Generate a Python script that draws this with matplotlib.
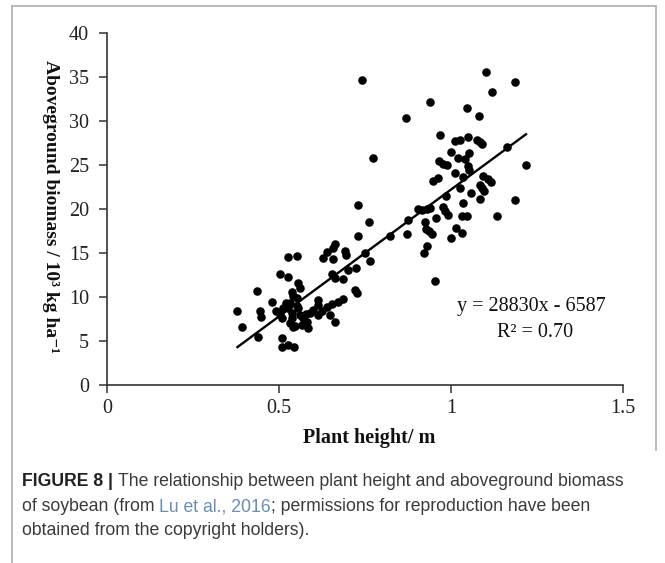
import matplotlib

matplotlib.use("Agg")
import matplotlib.pyplot as plt
from matplotlib.lines import Line2D

# Plant height (m) and aboveground biomass (10^3 kg/ha) per sample plot
height = [
    0.379, 0.392, 0.435, 0.440, 0.445, 0.447, 0.481, 0.492,
    0.503, 0.527, 0.527, 0.551, 0.510, 0.508, 0.527, 0.545,
    0.503, 0.513, 0.520, 0.510, 0.532, 0.547, 0.527, 0.532,
    0.539, 0.537, 0.541, 0.551, 0.556, 0.561, 0.556, 0.561,
    0.551, 0.537, 0.541, 0.571, 0.568, 0.580, 0.585, 0.590,
    0.600, 0.614, 0.612, 0.614, 0.578, 0.639, 0.653, 0.672,
    0.687, 0.648, 0.663, 0.629, 0.656, 0.640, 0.658, 0.663,
    0.692, 0.694, 0.653, 0.663, 0.687, 0.702, 0.724, 0.720,
    0.726, 0.625,
    0.742, 0.774, 0.729, 0.762, 0.729, 0.750, 0.765, 0.823,
    0.869, 0.874, 0.871,
    0.905, 0.915, 0.929, 0.939, 0.924, 0.928, 0.936, 0.945,
    0.956, 0.929, 0.922, 0.953, 0.939, 0.968, 0.949, 0.961,
    0.966, 0.978, 0.987, 0.978, 0.983, 0.992, 0.985, 0.999,
    0.999,
    1.012, 1.026, 1.050, 1.077, 1.084, 1.089, 1.021, 1.040,
    1.048, 1.052, 1.012, 1.053, 1.034, 1.026, 1.058, 1.034,
    1.031, 1.046, 1.014, 1.031, 1.046, 1.082, 1.101, 1.094,
    1.108, 1.116, 1.084, 1.089, 1.096, 1.084,
    1.118, 1.133, 1.187, 1.187, 1.218, 1.163,
]
biomass = [
    8.4, 6.6, 10.7, 5.5, 8.5, 7.8, 9.45, 8.4,
    12.7, 12.3, 14.6, 14.65, 5.4, 4.4, 4.6, 4.4,
    8.1, 8.8, 9.3, 7.6, 7.1, 6.7, 8.8, 9.4,
    8.2, 10.6, 10.1, 9.9, 11.6, 11.05, 8.8, 8.0,
    9.0, 7.6, 6.6, 7.6, 6.9, 7.25, 6.5, 8.2,
    8.6, 8.0, 9.1, 9.7, 8.1, 8.95, 9.2, 9.5,
    9.8, 8.0, 7.25, 14.5, 14.3, 15.1, 15.6, 16.06,
    15.3, 14.8, 12.6, 12.25, 12.1, 13.1, 13.3, 10.85,
    10.5, 8.5,
    34.7, 25.8, 20.5, 18.6, 17.0, 15.0, 14.1, 17.0,
    30.4, 18.75, 17.2,
    20.0, 19.9, 20.0, 20.2, 18.6, 17.8, 17.5, 17.2,
    19.0, 15.8, 15.0, 11.8, 32.2, 28.4, 23.2, 23.6,
    25.5, 25.2, 25.05, 20.3, 19.8, 19.4, 21.5, 26.5,
    16.7,
    27.8, 27.9, 28.2, 27.9, 27.6, 27.4, 25.8, 25.7,
    24.9, 26.4, 24.1, 24.5, 23.7, 22.4, 21.9, 20.7,
    19.2, 19.2, 17.9, 17.3, 31.5, 30.6, 35.6, 23.8,
    23.4, 23.1, 22.8, 22.4, 22.05, 21.2,
    33.3, 19.2, 34.5, 21.1, 25.0, 27.1,
]

# Linear fit reported in kg/ha: y = 28830x - 6587
SLOPE = 28830
INTERCEPT = -6587
R2 = 0.70
fit_x = [min(height), max(height)]

x_ticks = [0, 0.5, 1, 1.5]
x_tick_labels = ["0", "0.5", "1", "1.5"]
y_ticks = [0, 5, 10, 15, 20, 25, 30, 35, 40]

SERIF = ["Liberation Serif", "DejaVu Serif"]
INK = "#111111"
AXIS = "#333333"
FRAME = "#b4b4b4"
CAPTION = "#3a3a3a"
LINK = "#6a8db5"

fig = plt.figure(figsize=(6.65, 5.63), dpi=100)
ax = fig.add_axes([107 / 665, 1 - 385.3 / 563, 516 / 665, 352 / 563])

ax.scatter(height, biomass, s=38, color="black", linewidths=0, zorder=3)
fit_y = [(SLOPE * v + INTERCEPT) / 1000 for v in fit_x]
ax.plot(fit_x, fit_y, color="black", lw=1.7, zorder=2)

ax.set_xlim(0, 1.5)
ax.set_ylim(0, 40)
ax.set_xticks(x_ticks)
ax.set_xticklabels(x_tick_labels)
ax.set_yticks(y_ticks)
for side in ("top", "right"):
    ax.spines[side].set_visible(False)
for side in ("left", "bottom"):
    ax.spines[side].set_color(AXIS)
    ax.spines[side].set_linewidth(1.2)
ax.tick_params(axis="both", direction="out", length=6, width=1.1, color=AXIS,
               labelsize=14.5, labelcolor="#222222")
ax.tick_params(axis="y", pad=7)
ax.tick_params(axis="x", pad=4)
for lab in ax.get_xticklabels() + ax.get_yticklabels():
    lab.set_family(SERIF)

ax.text(1.235, 9.0, f"y = {SLOPE}x - {abs(INTERCEPT)}", ha="center", va="center",
        fontsize=14.5, family=SERIF, color=INK)
ax.text(1.244, 6.05, f"R² = {R2:.2f}", ha="center", va="center",
        fontsize=14.5, family=SERIF, color=INK)

fig.text(369 / 665, 1 - 438 / 563, "Plant height/ m", ha="center", va="center",
         fontsize=14.5, fontweight="bold", family=SERIF, color=INK)
fig.text(50 / 665, 1 - 207 / 563, "Aboveground biomass / 10³ kg ha⁻¹",
         ha="center", va="center", rotation=-90, fontsize=14,
         fontweight="bold", family=SERIF, color=INK)

# panel frame: open at the bottom, left rule runs into the caption
frame = dict(color=FRAME, lw=1.3, transform=fig.transFigure)
fig.add_artist(Line2D([12 / 665, 656 / 665], [1 - 6 / 563] * 2, **frame))
fig.add_artist(Line2D([12 / 665] * 2, [1 - 6 / 563, 0], **frame))
fig.add_artist(Line2D([656 / 665] * 2, [1 - 6 / 563, 1 - 450 / 563], **frame))

# caption, assembled piece by piece so the bold label and link keep their styles
CAP_FONT = ["Liberation Sans Narrow", "Liberation Sans", "DejaVu Sans"]
renderer = fig.canvas.get_renderer()


def caption_line(y_px, pieces):
    x = 22 / 665
    for text, weight, color in pieces:
        t = fig.text(x, 1 - y_px / 563, text, ha="left", va="baseline",
                     fontsize=12.7, fontweight=weight, color=color, family=CAP_FONT)
        x = t.get_window_extent(renderer).x1 / fig.bbox.width


caption_line(486, [("FIGURE 8 | ", "bold", "#222222"),
                   ("The relationship between plant height and aboveground biomass",
                    "normal", CAPTION)])
caption_line(511, [("of soybean (from ", "normal", CAPTION),
                   ("Lu et al., 2016", "normal", LINK),
                   ("; permissions for reproduction have been", "normal", CAPTION)])
caption_line(535, [("obtained from the copyright holders).", "normal", CAPTION)])

fig.savefig("out.png", dpi=100, facecolor="white")
